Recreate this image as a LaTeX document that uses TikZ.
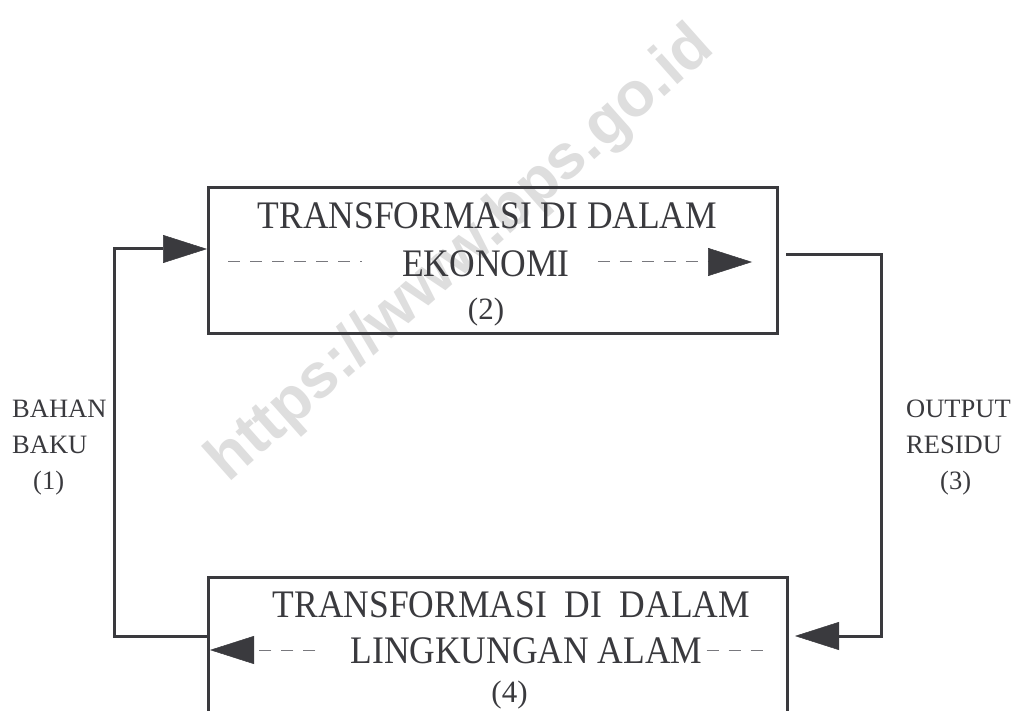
\documentclass[tikz,border=0pt]{standalone}
\usepackage{fontspec}
\setmainfont{Liberation Serif}
\setsansfont{Liberation Sans}
\newfontfamily\boxfont{Liberation Serif}[FakeStretch=0.91]
\usetikzlibrary{arrows.meta}
\definecolor{ink}{RGB}{58,58,62}
\definecolor{dashgray}{RGB}{120,120,125}
\tikzset{
  box/.style={draw=ink,line width=3pt,inner sep=0pt},
  bigtext/.style={font=\boxfont\fontsize{39}{46}\selectfont,text=ink,inner sep=0pt,anchor=base},
  numtext/.style={font=\fontsize{31}{36}\selectfont,text=ink,inner sep=0pt,anchor=base},
  sidetext/.style={font=\fontsize{26.5}{36}\selectfont,text=ink,inner sep=0pt,align=left,anchor=north west},
  conn/.style={draw=ink,line width=3pt},
  dashline/.style={draw=dashgray,line width=1pt,dash pattern=on 12pt off 10pt},
  head/.tip={Triangle[length=44pt,width=28pt,color=ink,fill=ink,line width=0.5pt]}
}
\begin{document}
\begin{tikzpicture}[x=1pt,y=-1pt]
 \useasboundingbox (0,0) rectangle (1023,711);
 \fill[white] (0,0) rectangle (1023,711);
 \clip (0,0) rectangle (1023,711);
 \node[rotate=41.6,text=black!13,inner sep=0pt,font=\sffamily\bfseries\fontsize{63}{63}\selectfont] (wm) at (462,255) {https://www.bps.go.id};

 \node[box,minimum width=568.5pt,minimum height=146pt] (eko) at (492.75,261) {};
 \node[bigtext] (eko1) at (487.5,228.5) {TRANSFORMASI DI DALAM};
 \node[bigtext] (eko2) at (486,277) {EKONOMI};
 \node[numtext] (eko3) at (486,320) {(2)};

 \node[box,minimum width=578.5pt,minimum height=183pt] (alam) at (497.75,668.5) {};
 \node[bigtext] (alam1) at (511.5,617) {TRANSFORMASI\ \ DI\ \ DALAM};
 \node[bigtext] (alam2) at (526.5,663) {LINGKUNGAN ALAM};
 \node[numtext] (alam3) at (509.5,702) {(4)};

 \node[sidetext] (bahan) at (12,400) {BAHAN\\BAKU\\\hspace{21pt}(1)};
 \node[sidetext] (residu) at (906,400) {OUTPUT\\RESIDU\\\hspace{34pt}(3)};

 \coordinate (bl) at (114,636);
 \coordinate (tl) at (114,249);
 \coordinate (tr) at (881,255);
 \coordinate (br) at (881,636);
 \draw[conn,-head] (alam.west |- bl) -- (bl) -- (tl) -- (eko.west |- tl);
 \draw[conn,-head,shorten <=7.5pt,shorten >=6.5pt] (eko.east |- tr) -- (tr) -- (br) -- (alam.east |- br);

 \coordinate (ekoA) at (228,262);
 \coordinate (ekoB) at (752,262);
 \draw[dashline,shorten >=40pt] (ekoA) -- (ekoA -| eko2.west);
 \draw[dashline,-head,shorten <=28pt] (ekoB -| eko2.east) -- (ekoB);

 \coordinate (alamA) at (210,650);
 \coordinate (alamB) at (770,650);
 \draw[dashline,-head,shorten <=35pt] (alamA -| alam2.west) -- (alamA);
 \draw[dashline,shorten <=4pt] (alamB -| alam2.east) -- (alamB);
\end{tikzpicture}
\end{document}
